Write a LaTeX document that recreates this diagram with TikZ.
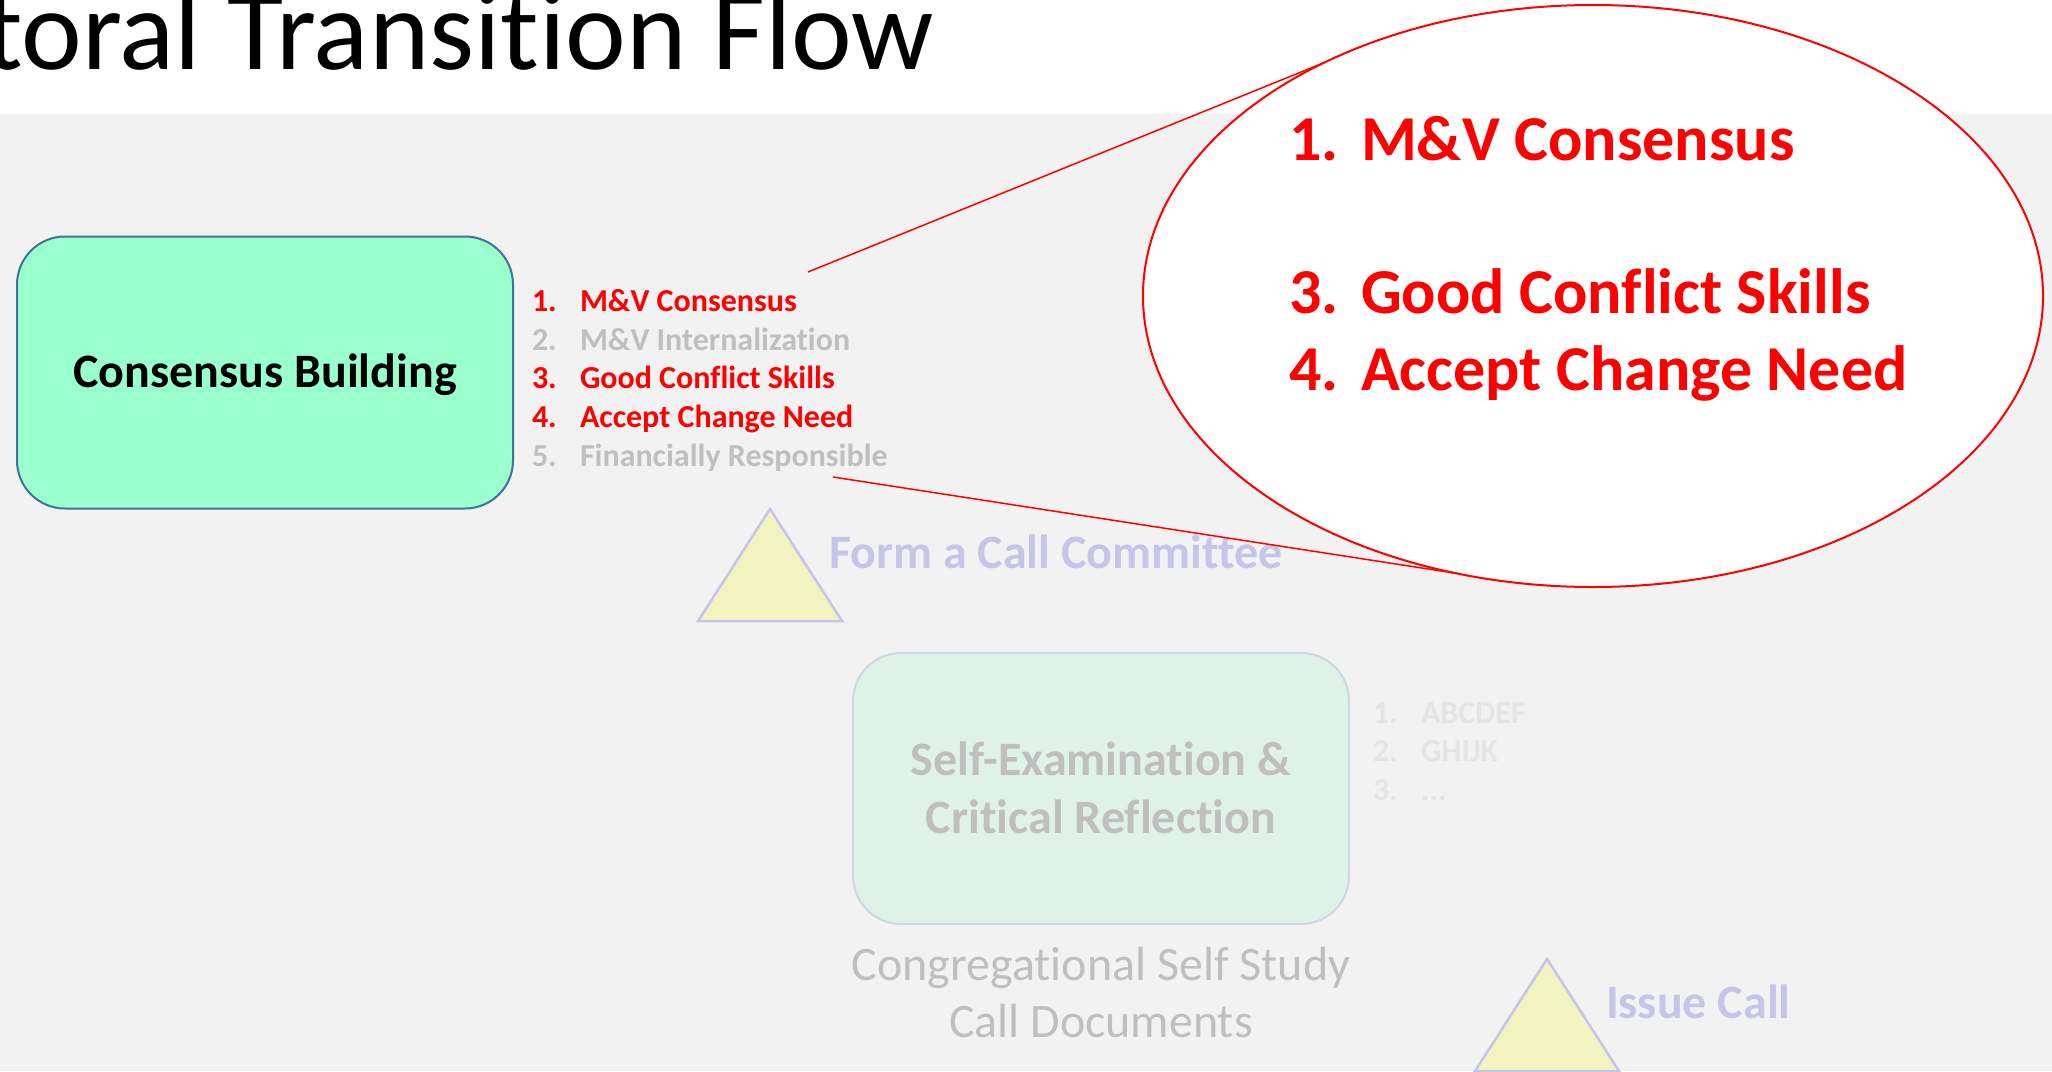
\documentclass[tikz,border=0pt]{standalone}
\usepackage{fontspec}
\setmainfont{Carlito}[RawFeature={-liga;-clig;-calt;-dlig}]
\usetikzlibrary{shapes.geometric}
\definecolor{bggray}{HTML}{F2F2F2}
\definecolor{mint}{HTML}{99FFCC}
\definecolor{mintborder}{HTML}{41719C}
\definecolor{palemint}{HTML}{DFF2E7}
\definecolor{paleborder}{HTML}{CCD8E6}
\definecolor{triyellow}{HTML}{F3F3C1}
\definecolor{lavender}{HTML}{C5C5EA}
\definecolor{midgray}{HTML}{BFBFBF}
\definecolor{faintgray}{HTML}{E4E4E4}
\tikzset{
  every node/.style={inner sep=0pt, outer sep=0pt},
  listitem/.style={anchor=base west, font=\bfseries\fontsize{32}{38}\selectfont},
  bigitem/.style={anchor=base west, text=red, font=\bfseries\fontsize{64}{76}\selectfont},
  boxlabel/.style={anchor=base, text=midgray, font=\bfseries\fontsize{48}{56}\selectfont},
  doclabel/.style={anchor=base, text=midgray, font=\fontsize{48}{56}\selectfont},
  milestone/.style={draw=lavender, fill=triyellow, line width=2.5pt, line join=miter},
  milestonelabel/.style={anchor=base west, text=lavender, font=\bfseries\fontsize{48}{56}\selectfont},
  pointer/.style={draw=red, line width=1.5pt}
}
\newcommand{\numitem}[2]{\makebox[48pt][l]{#1}#2}
\newcommand{\bignumitem}[2]{\makebox[72pt][l]{#1}#2}
\begin{document}
\begin{tikzpicture}[x=1pt,y=-1pt]
\useasboundingbox (0,0) rectangle (2052,1071);
\clip (0,0) rectangle (2052,1071);
\fill[white] (0,0) rectangle (2052,114);
\fill[bggray] (0,114) rectangle (2052,1071);
% title
\node[anchor=base west, font=\fontsize{115}{120}\selectfont] (title) at (-16,69) {toral Transition Flow};
% consensus building box
\node[draw=mintborder, fill=mint, line width=2pt, rounded corners=48pt,
      minimum width=496, minimum height=272, text height=30.5pt, text depth=0pt,
      font=\bfseries\fontsize{48}{56}\selectfont] (cb) at (265,372.5) {Consensus Building};
% list
\node[listitem, text=red] (l1) at (532,311) {\numitem{1.}{M\&V Consensus}};
\node[listitem, text=midgray] (l2) at (532,350) {\numitem{2.}{M\&V Internalization}};
\node[listitem, text=red] (l3) at (532,388) {\numitem{3.}{Good Conflict Skills}};
\node[listitem, text=red] (l4) at (532,427) {\numitem{4.}{Accept Change Need}};
\node[listitem, text=midgray] (l5) at (532,466) {\numitem{5.}{Financially Responsible}};
% milestone 1
\draw[milestone] (770,509) coordinate (t1a) -- (698,621) coordinate (t1b) -- (842,621) coordinate (t1c) -- cycle;
\node[milestonelabel] (m1) at (829,568) {Form a Call Committee};
% self examination box
\node[draw=paleborder, fill=palemint, line width=2pt, rounded corners=48pt,
      minimum width=496, minimum height=271] (se) at (1101,788.5) {};
\node[boxlabel] (se1) at (1101,775) {Self-Examination \&};
\node[boxlabel] (se2) at (1101,833) {Critical Reflection};
\node[doclabel] (d1) at (1101,980) {Congregational Self Study};
\node[doclabel] (d2) at (1101,1037) {Call Documents};
% faint list
\node[listitem, text=faintgray] (f1) at (1373,723) {\numitem{1.}{ABCDEF}};
\node[listitem, text=faintgray] (f2) at (1373,761) {\numitem{2.}{GHIJK}};
\node[listitem, text=faintgray] (f3) at (1373,800) {\numitem{3.}{...}};
% milestone 2
\draw[milestone] (1547,959) coordinate (t2a) -- (1475,1071) coordinate (t2b) -- (1619,1071) coordinate (t2c) -- cycle;
\node[milestonelabel] (m2) at (1606,1018) {Issue Call};
% callout ellipse
\node[ellipse, draw=red, fill=white, line width=2pt, minimum width=900, minimum height=582] (zoom) at (1593,296) {};
\node[bigitem] (b1) at (1289,160) {\bignumitem{1.}{M\&V Consensus}};
\node[bigitem] (b3) at (1289,313) {\bignumitem{3.}{Good Conflict Skills}};
\node[bigitem] (b4) at (1289,390) {\bignumitem{4.}{Accept Change Need}};
% pointer lines
\coordinate (p1) at (808,272);
\coordinate (p2) at (833,477);
\draw[pointer] (p1) -- (zoom.139.5);
\draw[pointer] (p2) -- (zoom.244.5);
\end{tikzpicture}
\end{document}
